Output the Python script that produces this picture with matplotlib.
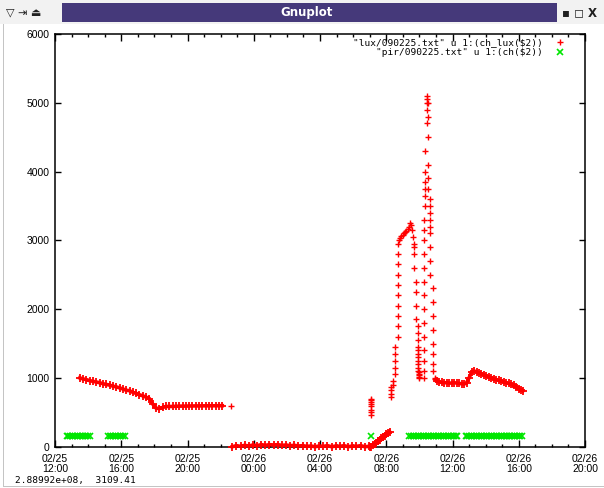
import matplotlib.pyplot as plt
from matplotlib.patches import Rectangle

# time axis: hours after 02/25 12:00
# lux sensor, evening of 02/25
lux_eve_hours = [1.5, 1.7, 1.9, 2.1, 2.3, 2.5, 2.7, 2.9, 3.1, 3.3, 3.5, 3.7, 3.9, 4.1, 4.3, 4.5,
                 4.7, 4.9, 5.1, 5.3, 5.5, 5.7, 5.9, 6.1, 6.3, 6.5, 6.7, 6.9, 7.1, 7.3, 7.5, 7.7,
                 7.9, 8.1, 8.3, 8.5, 8.7, 8.9, 9.1, 9.3, 9.5, 9.7, 9.9, 10.1]
lux_eve_values = [1000, 985, 975, 960, 950, 940, 930, 915, 905, 895, 880, 870, 855, 840, 820, 815,
                  790, 775, 755, 740, 720, 700, 620, 560, 555, 570, 585, 585, 585, 588, 590, 590,
                  590, 592, 592, 593, 593, 594, 594, 595, 595, 595, 596, 596]

# night, close to zero
lux_night_hours = [10.7, 10.95, 11.2, 11.45, 11.7, 11.95, 12.2, 12.45, 12.7, 12.95, 13.2, 13.45,
                   13.7, 13.95, 14.2, 14.45, 14.7, 14.95, 15.2, 15.45, 15.7, 15.95, 16.2, 16.45,
                   16.7, 16.95, 17.2, 17.45, 17.7, 17.95, 18.2, 18.45, 18.7, 18.95]
lux_night_values = [0, 15, 5, 20, 10, 25, 15, 30, 20, 30, 25, 30, 20, 25, 15, 20, 10, 15,
                    5, 10, 0, 10, 5, 15, 0, 10, 5, 15, 0, 10, 5, 15, 0, 5]

# dawn ramp
lux_dawn_hours = [19.0, 19.1, 19.2, 19.3, 19.4, 19.5, 19.6, 19.7, 19.8, 19.9, 20.0, 20.1, 20.2]
lux_dawn_values = [0, 0, 20, 40, 60, 80, 100, 120, 140, 160, 180, 200, 220]

# lone readings: late 02/25, short burst at ~07:00, then morning peak, dip, spike
lux_sparse_hours = [10.6,
                    19.05, 19.05, 19.05, 19.05, 19.05, 19.05, 19.05, 19.05,
                    20.3, 20.3, 20.3, 20.3, 20.4, 20.4,
                    20.55, 20.55, 20.55, 20.55, 20.55,
                    20.7, 20.7, 20.7, 20.7, 20.7, 20.7, 20.7, 20.7, 20.7, 20.7,
                    20.78, 20.85, 20.92, 21.0, 21.08, 21.15, 21.22, 21.3, 21.38, 21.45,
                    21.5, 21.55, 21.6, 21.65,
                    21.7, 21.7, 21.7, 21.8, 21.8, 21.8, 21.8,
                    21.9, 21.9, 21.9, 21.9, 21.9, 21.9, 21.9, 21.9, 21.9, 21.9, 21.9,
                    22.0, 22.0, 22.0, 22.0, 22.0,
                    22.25, 22.25, 22.25, 22.25, 22.25, 22.25, 22.25, 22.25, 22.25, 22.25,
                    22.25, 22.25, 22.25, 22.25,
                    22.35, 22.35, 22.35, 22.35, 22.35, 22.35,
                    22.45, 22.45, 22.45, 22.45, 22.45,
                    22.55, 22.55, 22.55, 22.55, 22.55, 22.55,
                    22.65, 22.65, 22.65, 22.65, 22.65, 22.65, 22.65, 22.65, 22.65,
                    22.8, 22.8, 22.8, 22.8, 22.8, 22.8, 22.8, 22.8,
                    22.95, 22.95]
lux_sparse_values = [595,
                     700, 680, 650, 620, 590, 540, 500, 460,
                     720, 770, 820, 870, 900, 960,
                     1050, 1150, 1250, 1350, 1450,
                     1600, 1750, 1900, 2050, 2200, 2350, 2500, 2650, 2800, 2950,
                     3000, 3030, 3060, 3080, 3100, 3120, 3140, 3170, 3200, 3250,
                     3220, 3150, 3050, 2950,
                     2900, 2800, 2600, 2400, 2250, 2050, 1850,
                     1750, 1650, 1550, 1450, 1400, 1350, 1300, 1250, 1200, 1150, 1100,
                     1080, 1060, 1040, 1020, 1000,
                     1000, 1100, 1250, 1400, 1600, 1800, 2000, 2200, 2400, 2600,
                     2800, 3000, 3150, 3300,
                     3500, 3650, 3750, 3850, 4000, 4300,
                     4700, 4900, 5000, 5050, 5100,
                     5000, 4800, 4500, 4100, 3900, 3750,
                     3600, 3500, 3400, 3300, 3200, 3100, 2900, 2700, 2500,
                     2300, 2100, 1900, 1700, 1500, 1350, 1200, 1100,
                     1000, 980]

# afternoon of 02/26
lux_pm_hours = [23.05, 23.2, 23.35, 23.5, 23.65, 23.8, 23.95, 24.1, 24.25, 24.4, 24.55, 24.7,
                24.85, 25.0, 25.15, 25.3, 25.45, 25.6, 25.75, 25.9, 26.05, 26.2, 26.35, 26.5,
                26.65, 26.8, 26.95, 27.1, 27.25, 27.4, 27.55, 27.7, 27.85, 28.0, 28.15, 28.25]
lux_pm_values = [960, 940, 935, 930, 930, 925, 925, 930, 925, 920, 915, 910,
                 930, 1000, 1080, 1100, 1090, 1075, 1060, 1045, 1030, 1015, 1000, 990,
                 975, 965, 955, 945, 930, 920, 905, 890, 870, 845, 825, 810]

# pir (motion) sensor hits
pir_hours = [0.7, 0.8, 0.9, 1.0, 1.1, 1.2, 1.3, 1.4, 1.5, 1.6, 1.7, 1.8, 1.9, 2.0, 2.1,
             3.2, 3.3, 3.4, 3.5, 3.6, 3.7, 3.8, 3.9, 4.0, 4.1, 4.2,
             19.05,
             21.4, 21.5, 21.6, 21.7, 21.8, 21.9, 22.0, 22.1, 22.2, 22.3, 22.4, 22.5, 22.6, 22.7,
             22.8, 22.9, 23.0, 23.1, 23.2, 23.3, 23.4, 23.5, 23.6, 23.7, 23.8, 23.9, 24.0,
             24.1, 24.2, 24.3,
             24.8, 24.9, 25.0, 25.1, 25.2, 25.3, 25.4, 25.5, 25.6, 25.7, 25.8, 25.9, 26.0,
             26.1, 26.2, 26.3, 26.4, 26.5, 26.6, 26.7, 26.8, 26.9, 27.0, 27.1, 27.2, 27.3,
             27.4, 27.5, 27.6, 27.7, 27.8, 27.9, 28.0, 28.1, 28.2]
pir_level = 150

x_tick_hours = [0, 4, 8, 12, 16, 20, 24, 28, 32]
x_tick_labels = ['02/25\n12:00', '02/25\n16:00', '02/25\n20:00', '02/26\n00:00', '02/26\n04:00',
                 '02/26\n08:00', '02/26\n12:00', '02/26\n16:00', '02/26\n20:00']
y_ticks = [0, 1000, 2000, 3000, 4000, 5000, 6000]
legend_labels = [r'"lux/090225.txt" u 1:(ch_lux(\$2))', r'"pir/090225.txt" u 1:(ch(\$2))']
status_text = '2.88992e+08,  3109.41'

pir_values = [pir_level] * len(pir_hours)

W, H = 604, 488
fig = plt.figure(figsize=(W / 100, H / 100), dpi=100)
fig.patch.set_facecolor('white')

def fx(px):
    return px / W

def fy(py):
    return 1 - py / H

# window chrome
fig.patches.append(Rectangle((0, fy(24)), 1, 24 / H, transform=fig.transFigure,
                             facecolor='#f2f2f2', edgecolor='none', zorder=0))
fig.patches.append(Rectangle((fx(62), fy(22)), fx(495), 19 / H, transform=fig.transFigure,
                             facecolor='#45397a', edgecolor='none', zorder=1))
fig.patches.append(Rectangle((fx(3), fy(487)), fx(1.2), (487 - 24) / H, transform=fig.transFigure,
                             facecolor='#c4c4c4', edgecolor='none', zorder=1))
fig.patches.append(Rectangle((fx(3), fy(487)), 1, 1.2 / H, transform=fig.transFigure,
                             facecolor='#c4c4c4', edgecolor='none', zorder=1))
fig.text(fx(307), fy(12.5), 'Gnuplot', color='white', fontsize=8.5, fontweight='bold',
         ha='center', va='center', family='DejaVu Sans')
fig.text(fx(6), fy(12.5), '▽ ⇥ ⏏', color='#202020', fontsize=8, ha='left', va='center',
         family='DejaVu Sans')
fig.text(fx(562), fy(12.5), '▪ ◻ X', color='#202020', fontsize=8.5, fontweight='bold',
         ha='left', va='center', family='DejaVu Sans')
fig.text(fx(15), fy(481), status_text, fontsize=6.8, ha='left', va='center',
         family='DejaVu Sans Mono')

left, right, top, bottom = 55, 585, 34, 446.7
ax = fig.add_axes([fx(left), fy(bottom), fx(right - left), (bottom - top) / H])

red, green = '#ff0000', '#00e600'
# densely logged stretches merge into a solid band of points
for hrs, vals in [(lux_eve_hours, lux_eve_values), (lux_night_hours, lux_night_values),
                  (lux_dawn_hours, lux_dawn_values), (lux_pm_hours, lux_pm_values)]:
    ax.plot(hrs, vals, linestyle='-', linewidth=2.6, marker='+', markersize=5.5,
            markeredgewidth=1.3, color=red, clip_on=False, zorder=3)
lux_line, = ax.plot(lux_sparse_hours, lux_sparse_values, linestyle='none', marker='+',
                    markersize=5, markeredgewidth=1.0, color=red, clip_on=False, zorder=3)
pir_line, = ax.plot(pir_hours, pir_values, linestyle='none', marker='x', markersize=4,
                    markeredgewidth=1.2, color=green, clip_on=False, zorder=3)

ax.set_xlim(0, 32)
ax.set_ylim(0, 6000)
ax.set_xticks(x_tick_hours)
ax.set_xticklabels(x_tick_labels)
ax.set_xticks(range(0, 33), minor=True)
ax.set_yticks(y_ticks)
ax.set_yticklabels([str(v) for v in y_ticks])
ax.tick_params(axis='both', which='both', direction='in', top=True, right=True,
               colors='black', labelsize=7.5)
ax.tick_params(axis='x', which='major', length=5, width=1, pad=5)
ax.tick_params(axis='x', which='minor', length=2.5, width=1)
ax.tick_params(axis='y', which='major', length=4, width=1, pad=4)
for lab in ax.get_xticklabels() + ax.get_yticklabels():
    lab.set_family('Liberation Sans')
for lab in ax.get_xticklabels():
    lab.set_linespacing(1.05)
for sp in ax.spines.values():
    sp.set_linewidth(1.1)

ax.legend(handles=[lux_line, pir_line], labels=legend_labels, loc='upper right',
          bbox_to_anchor=(0.962, 0.989), markerfirst=False, frameon=False,
          borderpad=0, borderaxespad=0, handlelength=1.0, handletextpad=1.3, labelspacing=0.1,
          prop={'family': 'DejaVu Sans Mono', 'size': 6.8})

plt.savefig('out.png', dpi=100)
